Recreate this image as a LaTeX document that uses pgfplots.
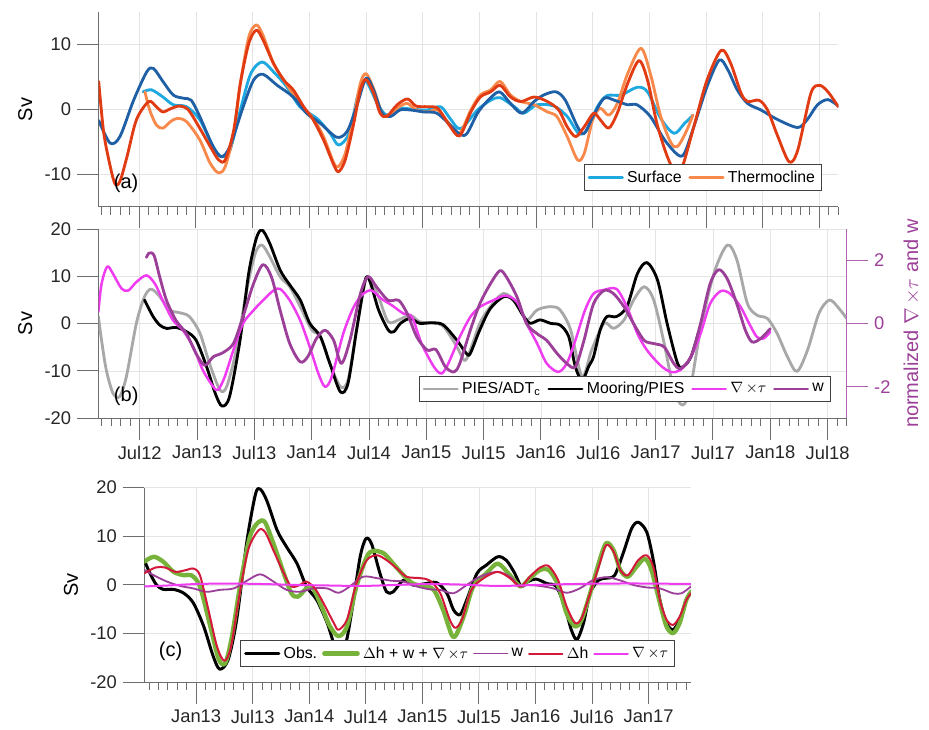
\documentclass[border=0pt]{standalone}
\usepackage{fontspec}
\setmainfont{Liberation Sans}
\usepackage{pgfplots}
\pgfplotsset{compat=1.18}
\definecolor{dblue}{HTML}{1F5FA5}
\definecolor{lblue}{HTML}{1EA8E0}
\definecolor{orng}{HTML}{F8894A}
\definecolor{redd}{HTML}{E13B14}
\definecolor{pgray}{HTML}{A8A8A8}
\definecolor{mag}{HTML}{F03CF0}
\definecolor{purp}{HTML}{9B3F99}
\definecolor{grn}{HTML}{77B33A}
\definecolor{crim}{HTML}{D4183A}
\definecolor{axgray}{HTML}{6E6E6E}
\definecolor{gridc}{HTML}{E4E4E4}
\newcommand{\curl}{$\nabla\,{\times}\tau$}
\pgfplotsset{
  base/.style={
    scale only axis,
    axis x line*=bottom, axis y line*=left,
    tick align=outside,
    major tick length=13pt, minor tick length=4.8pt,
    xmajorgrids, ymajorgrids,
    grid style={gridc, line width=0.5pt},
    axis line style={draw=axgray, line width=0.6pt},
    tick style={axgray, line width=0.6pt},
    tick label style={font=\fontsize{11}{13}\selectfont, text=black!85},
    label style={font=\fontsize{12}{14}\selectfont},
    /pgf/number format/assume math mode=true,
    ylabel style={at={(rel axis cs:0,0.5)}, anchor=center, yshift=44pt},
    legend columns=-1,
    legend cell align=left,
    legend image code/.code={\draw[#1] (0pt,0pt) -- (20pt,0pt);},
    legend style={draw=black!75, line width=0.5pt, fill=white,
      font=\fontsize{9.5}{11}\selectfont, anchor=south east,
      inner xsep=2pt, inner ysep=1.5pt,
      /tikz/every even column/.append style={column sep=2pt}},
    every axis plot/.append style={smooth, line join=round, line cap=round},
  }
}
\begin{document}
\begin{tikzpicture}
\useasboundingbox (0,0) rectangle (557.4pt,437.4pt);
% ---------------- panel (a)
\begin{axis}[base, at={(59.2pt,430.2pt)}, anchor=north west,
  width=443.8pt, height=116.8pt,
  xmin=1.7, xmax=80, ymin=-15, ymax=15,
  ytick={-10,0,10}, xtick={6,12,...,78}, minor xtick={2,...,80},
  xticklabel style={text opacity=0},
  ylabel={Sv},
  legend style={at={(rel axis cs:0.978,0.081)}}]
\addplot[lblue, line width=1.7pt] coordinates {(6.4,2.7)(7.3,3.0)(8.5,1.9)(9.6,0.7)(11.0,0.4)(12.4,-1.6)(13.8,-5.7)(14.7,-7.3)(15.6,-6.3)(16.7,-0.1)(17.8,5.5)(19.0,7.3)(20.2,5.8)(21.6,3.5)(23.0,0.4)(24.8,-1.4)(26.2,-3.7)(27.1,-5.5)(28.2,-3.7)(29.2,2.5)(30.0,4.3)(31.2,0.9)(32.2,-0.9)(33.6,0.15)(35.0,0)(36.5,-0.1)(37.9,0.4)(38.9,-1.4)(40.0,-3.0)(41.8,-0.1)(43.2,1.4)(44.2,1.8)(45.7,0.4)(46.7,-0.6)(48.1,0.7)(49.9,0.5)(51.3,-1.1)(52.5,-3.7)(53.4,-3.2)(54.5,0.4)(55.5,2.1)(57.0,2.2)(58.7,3.4)(59.8,2.7)(61.2,-1.4)(62.6,-3.7)(63.7,-2.2)(64.6,-0.9)};
\addlegendentry{Surface}
\addplot[orng, line width=1.7pt] coordinates {(6.6,2.7)(7.1,-0.1)(7.8,-2.4)(8.5,-2.9)(9.3,-1.9)(10.0,-1.4)(11.0,-1.9)(12.4,-4.7)(13.5,-8.3)(14.4,-9.8)(15.1,-8.8)(16.0,-3.7)(16.7,4.0)(17.6,11.2)(18.4,13.0)(19.1,11.4)(20.2,7.1)(21.3,4.5)(23.0,0.9)(24.4,-1.4)(25.5,-4.2)(26.6,-8.3)(27.1,-8.8)(27.8,-6.8)(28.7,-1.1)(29.4,4.0)(30.0,5.5)(30.8,3.2)(31.7,-0.6)(32.4,-0.9)(33.5,0.4)(34.4,0.9)(35.3,-0.1)(36.5,-0.4)(37.6,-0.1)(38.8,-2.2)(39.9,-3.7)(41.1,-0.1)(42.1,2.2)(43.2,3.0)(44.2,4.3)(45.3,2.2)(46.4,1.2)(47.8,0.7)(49.2,-0.4)(50.2,-1.1)(51.3,-4.2)(52.4,-7.8)(53.1,-6.8)(54.0,-1.6)(54.8,0.15)(55.7,-0.9)(56.6,0.9)(57.7,5.5)(59.1,9.4)(60.1,5.5)(61.2,-1.1)(62.3,-5.2)(63.0,-5.7)(63.9,-3.4)(64.6,-0.9)};
\addlegendentry{Thermocline}
\addplot[dblue, line width=1.7pt, forget plot] coordinates {(1.7,-1.7)(2.9,-5.2)(3.95,-4.2)(5.4,1.4)(6.8,5.8)(7.5,6.3)(8.5,4.3)(9.6,2.2)(10.7,1.7)(11.5,1.4)(12.4,-1.1)(13.8,-5.7)(14.7,-7.3)(15.6,-5.7)(17.0,0.4)(18.1,4.5)(19.1,5.4)(20.6,3.7)(22.3,1.9)(23.7,-0.6)(25.2,-2.2)(26.9,-4.3)(28.0,-3.4)(29.0,0.4)(30.0,4.8)(30.8,3.0)(31.7,-0.6)(32.6,-1.1)(33.6,-0.1)(34.7,-0.1)(36.1,-0.4)(37.5,-0.6)(38.9,-2.4)(40.0,-3.9)(40.7,-3.7)(41.8,-0.6)(42.8,1.2)(44.1,2.7)(45.3,0.9)(46.5,-0.6)(47.8,1.2)(48.8,2.2)(50.1,2.7)(51.1,1.4)(52.4,-2.7)(53.1,-3.7)(54.1,-0.9)(55.2,1.7)(56.3,1.4)(57.7,0.7)(58.7,0.7)(60.1,-1.1)(61.6,-4.7)(63.0,-7.0)(63.7,-6.8)(64.7,-2.7)(66.1,3.5)(67.4,7.6)(68.3,6.1)(69.3,3.0)(70.4,0.9)(71.8,-0.1)(73.6,-1.6)(75.7,-2.8)(76.7,-1.6)(77.8,0.7)(78.9,1.5)(80,0.5)};
\addplot[redd, line width=1.7pt, forget plot] coordinates {(1.7,4.3)(2.2,-3.2)(2.7,-7.3)(3.4,-11.4)(3.95,-11.1)(4.7,-7.3)(5.7,-1.6)(7.0,1.2)(7.8,0.4)(8.5,-0.4)(9.4,0.15)(10.3,0.5)(11.2,-0.1)(12.4,-2.9)(13.5,-5.7)(14.4,-7.8)(15.1,-7.8)(16.0,-3.2)(16.7,4.0)(17.6,10.2)(18.4,12.2)(19.1,10.7)(20.2,7.1)(21.3,4.5)(22.3,3.0)(23.4,0.4)(24.4,-1.6)(25.5,-4.7)(26.6,-8.6)(27.1,-9.6)(27.8,-7.8)(28.7,-2.2)(29.4,3.0)(30.0,4.6)(30.8,2.5)(31.5,-0.6)(32.2,-1.1)(33.3,0.7)(34.4,1.6)(35.3,0.5)(36.5,0.4)(37.6,0.15)(38.8,-2.4)(39.9,-4.1)(41.1,-0.4)(42.1,1.9)(43.2,2.7)(44.2,3.7)(45.3,1.9)(46.4,1.2)(47.8,1.9)(49.2,1.2)(50.4,-0.1)(51.3,-2.7)(52.2,-4.2)(53.1,-2.7)(54.1,-0.6)(54.8,-1.6)(55.7,-2.9)(56.6,-0.6)(57.7,4.0)(58.9,7.5)(59.8,4.5)(60.8,-2.2)(61.9,-7.3)(62.8,-9.8)(63.5,-8.8)(64.7,-2.7)(66.1,4.5)(67.6,9.1)(68.6,7.1)(69.7,2.5)(70.4,1.2)(71.6,1.4)(72.5,-0.1)(73.6,-4.2)(74.8,-8.1)(75.7,-6.3)(77.1,2.5)(78.0,3.7)(78.9,2.7)(80,0.4)};
\node[anchor=west, font=\fontsize{12}{14}\selectfont] at (rel axis cs:0.0126,0.122) {(a)};
\end{axis}
% ---------------- panel (b) left axis
\begin{axis}[base, at={(59.2pt,300pt)}, anchor=north west,
  width=448.8pt, height=113.6pt,
  xmin=1.7, xmax=80, ymin=-20, ymax=20,
  ytick={-20,-10,0,10,20}, xtick={6,12,...,78}, minor xtick={2,...,80},
  xticklabels={Jul12,Jan13,Jul13,Jan14,Jul14,Jan15,Jul15,Jan16,Jul16,Jan17,Jul17,Jan18,Jul18},
  ylabel={Sv}]
\addplot[pgray, line width=1.7pt] coordinates {(1.67,1.5)(2.0,-3.5)(2.5,-9.8)(3.2,-14.7)(3.9,-15.4)(4.6,-11.2)(5.65,0.1)(6.5,5.7)(7.2,7.3)(8.1,5.7)(9.1,2.9)(10.2,2.3)(11.2,1.5)(12.3,-2.0)(13.3,-8.4)(14.4,-14.0)(15.1,-13.3)(16.1,-5.6)(17.2,7.1)(18.1,14.9)(18.8,16.6)(19.6,14.2)(20.7,9.9)(21.7,7.8)(22.8,3.6)(24.0,-1.3)(24.9,-2.7)(25.9,-8.4)(27.0,-13.3)(27.8,-11.9)(28.7,-1.3)(29.6,8.9)(30.1,9.6)(31.0,5.7)(32.0,0.4)(33.1,0.8)(34.3,1.8)(35.3,0.4)(36.7,0.1)(37.8,-0.6)(39.2,-4.9)(40.0,-7.8)(40.6,-5.6)(41.6,0.07)(42.7,3.6)(44.1,6.4)(45.5,4.3)(46.5,0.8)(47.6,2.9)(49.0,3.6)(50.0,2.9)(51.1,-1.3)(52.3,-11.2)(53.3,-5.6)(54.6,0.07)(55.6,-1.0)(56.7,0.8)(57.7,5.0)(58.8,7.8)(59.8,5.0)(60.9,-4.2)(61.9,-14.0)(62.8,-17.2)(63.6,-14.0)(64.7,-1.3)(66.1,10.6)(67.5,16.6)(68.5,13.5)(69.6,4.3)(70.6,1.8)(71.7,1.1)(72.7,-2.0)(73.8,-7.0)(74.8,-10.1)(75.9,-5.6)(77.1,2.2)(78.2,5.0)(79.2,3.2)(80,1.1)};
\addplot[black, line width=1.7pt] coordinates {(6.5,5.0)(7.4,1.5)(8.1,-0.3)(8.8,-1.0)(9.8,-0.8)(10.9,-1.7)(11.9,-3.5)(13.0,-9.1)(13.9,-14.7)(14.6,-17.4)(15.4,-15.4)(16.5,-3.5)(17.4,10.6)(18.2,18.0)(18.8,19.8)(19.6,17.0)(20.7,11.3)(21.7,8.2)(22.8,5.0)(23.8,0.07)(24.9,-2.7)(25.9,-8.4)(27.0,-14.4)(27.8,-12.6)(28.7,-1.3)(29.6,9.2)(30.1,8.9)(31.0,2.9)(32.0,-1.3)(32.6,-1.7)(33.3,0.07)(34.3,1.1)(35.3,0.07)(36.7,0.2)(37.8,-0.3)(39.2,-3.5)(40.2,-6.3)(40.6,-6.3)(41.6,-1.3)(42.7,3.2)(44.1,5.7)(45.1,5.0)(46.2,1.5)(46.9,0.07)(47.9,0.8)(49.0,0.07)(50.0,-0.3)(50.9,-2.7)(51.6,-9.1)(52.3,-12.0)(53.0,-9.0)(53.5,-7.0)(54.2,-1.3)(54.9,1.5)(55.9,1.5)(57.0,3.6)(58.1,10.6)(59.1,12.9)(60.2,9.2)(61.2,0.07)(62.3,-8.4)(62.9,-9.1)(63.7,-7.0)(64.5,-1.8)};
\node[anchor=west, font=\fontsize{12}{14}\selectfont] at (rel axis cs:0.0126,0.114) {(b)};
\end{axis}
% ---------------- panel (b) right axis
\begin{axis}[scale only axis, at={(59.2pt,300pt)}, anchor=north west,
  width=448.8pt, height=113.6pt,
  xmin=1.7, xmax=80, ymin=-3, ymax=3,
  axis x line=none, axis y line*=right,
  ytick={-2,0,2}, tick align=outside, major tick length=13pt,
  y axis line style={draw=purp!80, line width=0.6pt},
  ytick style={purp!80, line width=0.6pt},
  yticklabel style={font=\fontsize{11}{13}\selectfont, text=purp},
  /pgf/number format/assume math mode=true,
  ylabel={normalized \curl\ and w},
  ylabel style={font=\fontsize{12}{14}\selectfont, text=purp, at={(rel axis cs:1,0.5)}, anchor=center, yshift=-39pt},
  legend columns=-1, legend cell align=left,
  legend image code/.code={\draw[#1] (0pt,0pt) -- (20pt,0pt);},
  legend style={draw=black!75, line width=0.5pt, fill=white,
      font=\fontsize{9.5}{11}\selectfont, anchor=south east, at={(rel axis cs:0.979,0.085)},
      inner xsep=2pt, inner ysep=1.5pt,
      /tikz/every even column/.append style={column sep=2pt}},
  every axis plot/.append style={smooth, line join=round, line cap=round}]
\addlegendimage{pgray, line width=1.7pt}
\addlegendentry{PIES/ADT\textsubscript{c}}
\addlegendimage{black, line width=1.7pt}
\addlegendentry{Mooring/PIES}
\addplot[mag, line width=1.5pt] coordinates {(1.67,0.37)(2.0,1.26)(2.6,1.81)(3.2,1.58)(4.1,1.11)(4.8,1.05)(5.65,1.32)(6.7,1.53)(7.6,1.26)(8.4,0.74)(9.5,0.1)(10.5,-0.2)(11.6,-0.74)(12.6,-1.47)(13.7,-2.0)(14.2,-2.1)(14.9,-1.68)(15.8,-0.84)(16.8,0)(17.9,0.42)(18.9,0.74)(20.0,1.05)(20.7,1.1)(21.7,0.74)(22.8,0.1)(23.8,-0.74)(24.7,-1.58)(25.4,-2.0)(26.1,-1.68)(27.3,-0.32)(28.4,0.53)(29.4,0.95)(30.3,1.05)(31.3,0.79)(32.4,0.58)(33.6,0.32)(34.5,0.21)(35.5,-0.63)(36.8,-1.37)(37.6,-1.58)(38.3,-1.26)(39.5,-0.42)(40.6,0.21)(41.6,0.53)(43.0,0.74)(44.3,0.89)(45.5,0.68)(46.5,0)(47.6,-0.63)(48.6,-1.26)(49.8,-1.53)(50.7,-1.26)(51.6,-0.53)(52.6,0.42)(53.5,0.95)(54.6,1.07)(55.9,1.1)(57.0,0.53)(58.1,-0.32)(59.1,-0.84)(60.5,-1.32)(61.6,-1.53)(62.6,-1.47)(63.7,-1.05)(64.7,-0.32)(65.7,0.63)(66.8,1.03)(67.8,0.95)(68.9,0.53)(69.8,0)(70.6,-0.42)(71.3,-0.47)(72.0,-0.26)};
\addlegendentry{\curl}
\addplot[purp, line width=1.7pt] coordinates {(6.7,2.1)(7.0,2.24)(7.5,2.16)(8.1,1.47)(8.8,0.74)(9.8,0.1)(10.9,-0.32)(11.9,-0.95)(12.8,-1.32)(13.7,-1.05)(14.7,-0.92)(15.8,-0.63)(16.8,0.21)(17.9,1.26)(18.9,1.87)(19.8,1.47)(20.7,0.42)(21.7,-0.63)(22.8,-1.21)(23.6,-1.04)(24.5,-0.47)(25.4,-0.21)(26.3,-0.53)(27.1,-1.26)(28.0,-0.53)(29.1,0.95)(29.9,1.49)(30.8,1.16)(32.0,0.74)(33.1,0.74)(34.0,0.32)(35.0,-0.42)(36.1,-0.84)(37.0,-0.82)(38.0,-1.37)(38.9,-1.53)(39.5,-1.26)(40.6,-0.21)(41.6,0.63)(42.7,1.26)(43.7,1.68)(44.4,1.47)(45.5,0.84)(46.5,0)(47.6,-0.32)(48.6,-0.53)(49.7,-0.95)(50.7,-1.26)(51.6,-1.37)(52.5,-0.53)(53.5,0.63)(54.6,1.05)(55.6,0.95)(56.7,0.53)(57.7,0)(58.8,-0.53)(59.8,-0.63)(60.9,-0.74)(61.9,-1.26)(62.6,-1.42)(63.7,-1.05)(64.7,0)(65.7,1.26)(66.6,1.71)(67.5,1.42)(68.5,0.63)(69.4,-0.21)(70.1,-0.58)(71.0,-0.47)(72.0,-0.16)};
\addlegendentry{w}
\end{axis}
% ---------------- panel (c)
\begin{axis}[base, at={(86.6pt,144.8pt)}, anchor=north west,
  width=328pt, height=116.8pt,
  xmin=6.5, xmax=64.5, ymin=-20, ymax=20,
  ytick={-20,-10,0,10,20}, xtick={12,18,...,60}, minor xtick={7,...,64},
  xticklabels={Jan13,Jul13,Jan14,Jul14,Jan15,Jul15,Jan16,Jul16,Jan17},
  ylabel={Sv},
  legend style={at={(rel axis cs:0.971,0.080)}, /tikz/every even column/.append style={column sep=1pt}}]
\addplot[black, line width=1.8pt] coordinates {(6.5,5.1)(7.1,2.4)(7.8,0)(8.5,-0.9)(9.6,-0.9)(10.7,-1.7)(11.7,-3.7)(12.8,-8.5)(13.8,-14.6)(14.5,-17.3)(15.4,-15.3)(16.3,-7.1)(17.4,9.2)(18.3,18.7)(18.8,19.7)(19.5,17.3)(20.6,11.2)(21.6,7.8)(22.7,4.4)(23.7,-0.3)(24.8,-3.1)(25.9,-7.8)(26.7,-12.5)(27.4,-14.2)(28.0,-11.0)(28.7,-3.1)(29.4,5.8)(30.0,9.5)(30.6,8.5)(31.5,2.4)(32.2,-1.4)(32.9,-1.4)(34.0,1.0)(35.0,0)(36.1,0.2)(37.5,0.5)(38.6,-1.7)(39.3,-5.1)(40.0,-6.1)(40.7,-3.1)(41.8,2.4)(42.8,4.1)(44.0,5.8)(44.9,5.1)(45.8,2.4)(46.5,-0.3)(47.2,0.7)(48.1,1.2)(49.2,0.3)(50.2,-0.3)(51.1,-4.4)(51.8,-9.2)(52.4,-11.2)(53.1,-7.8)(53.8,-1.7)(54.7,1.0)(55.5,1.4)(56.4,2.0)(57.3,6.5)(58.2,11.6)(58.9,12.9)(59.8,10.9)(60.5,5.1)(61.2,-3.1)(61.9,-7.8)(62.6,-9.2)(63.3,-7.1)(64.0,-3.1)(64.5,-1.4)};
\addlegendentry{Obs.}
\addplot[grn, line width=2.6pt] coordinates {(6.5,4.8)(7.5,5.8)(8.5,4.8)(9.6,2.7)(10.7,2.0)(11.5,2.0)(12.4,-0.3)(13.5,-8.5)(14.4,-15.3)(15.1,-16.0)(15.8,-10.5)(16.7,0.3)(17.7,9.9)(18.6,12.9)(19.3,12.9)(20.2,8.5)(21.3,2.4)(22.1,-1.7)(22.8,-2.4)(23.7,-0.7)(24.4,-0.7)(25.3,-4.4)(26.2,-8.5)(27.1,-10.5)(28.0,-8.5)(29.0,-0.3)(30.1,5.8)(30.8,7.0)(31.9,6.5)(32.9,4.4)(34.0,2.0)(35.0,0.3)(36.1,-0.2)(37.2,-1.0)(38.2,-5.1)(39.1,-10.2)(39.6,-10.2)(40.5,-5.8)(41.4,-0.3)(42.8,2.4)(44.0,4.4)(45.3,2.0)(46.4,-0.3)(47.4,1.4)(48.5,3.1)(49.4,3.1)(50.4,0)(51.3,-5.8)(52.2,-8.5)(52.9,-7.1)(53.8,-1.7)(54.7,4.4)(55.5,8.6)(56.3,7.1)(57.0,3.1)(57.8,1.7)(58.7,3.7)(59.6,5.4)(60.3,3.1)(61.2,-3.7)(61.9,-8.5)(62.6,-9.9)(63.3,-7.8)(64.0,-3.1)(64.5,-1.4)};
\addlegendentry{$\Delta$h + w + \curl}
\addplot[purp, line width=1.1pt] coordinates {(6.5,3.1)(7.5,2.0)(8.9,0.7)(10.3,-0.2)(11.7,-0.7)(13.1,-1.4)(14.5,-1.0)(16.0,-0.7)(17.4,0.9)(18.8,2.2)(20.2,0.7)(21.6,-1.0)(23.0,-1.4)(24.4,-0.7)(25.9,-0.7)(27.1,-1.6)(28.3,-0.3)(29.7,1.7)(31.2,1.4)(32.6,0.9)(34.0,0.7)(35.4,-0.3)(36.8,-0.9)(37.9,-1.0)(39.3,-1.7)(40.7,0)(42.1,1.7)(43.9,2.7)(45.3,1.7)(46.3,-0.3)(47.1,0)(48.5,-0.2)(49.9,-0.7)(51.3,-1.6)(52.7,-0.7)(54.1,1.0)(55.5,1.6)(56.9,1.0)(58.4,0)(59.8,-0.5)(61.2,-0.7)(62.6,-1.7)(63.5,-1.7)(64.5,-0.3)};
\addlegendentry{w}
\addplot[crim, line width=1.2pt] coordinates {(6.5,2.4)(7.7,3.6)(8.7,3.6)(9.8,2.7)(11.0,3.1)(11.7,3.4)(12.4,2.0)(13.3,-5.1)(14.2,-12.6)(15.0,-15.6)(15.7,-12.6)(16.5,-3.1)(17.5,7.1)(18.6,11.2)(19.3,10.9)(20.2,7.1)(21.3,2.4)(22.1,-0.3)(23.0,0)(23.7,0.7)(24.6,-0.7)(25.5,-3.7)(26.6,-7.8)(27.1,-9.2)(28.0,-7.1)(29.0,0.3)(30.1,5.1)(31.2,6.1)(32.2,5.1)(33.3,3.4)(34.3,1.7)(35.8,1.4)(36.8,0.9)(37.9,-1.7)(38.9,-7.1)(39.5,-8.8)(40.2,-7.1)(41.2,-1.0)(42.5,1.4)(44.0,2.7)(45.3,1.4)(46.4,-0.3)(47.4,1.7)(48.5,3.6)(49.4,3.9)(50.4,1.0)(51.3,-4.4)(52.2,-7.8)(52.9,-6.8)(53.8,-1.7)(54.7,3.7)(55.5,8.2)(56.3,6.8)(57.0,3.1)(57.8,2.0)(58.9,5.1)(59.8,6.1)(60.5,3.7)(61.2,-3.1)(61.9,-7.1)(62.6,-8.2)(63.3,-6.5)(64.0,-3.1)(64.5,-1.7)};
\addlegendentry{$\Delta$h}
\addplot[mag, line width=1.2pt] coordinates {(6.5,-0.3)(9,-0.1)(12.0,0.2)(15.5,0.3)(19,0.2)(23,0)(26,-0.1)(29.5,-0.2)(33,0)(36.5,0.2)(40,0.1)(44,-0.2)(47.8,0)(52,0.2)(56,0.3)(60,0.3)(64.5,0.2)};
\addlegendentry{\curl}
\node[anchor=west, font=\fontsize{12}{14}\selectfont] at (rel axis cs:0.016,0.157) {(c)};
\end{axis}
\end{tikzpicture}
\end{document}
